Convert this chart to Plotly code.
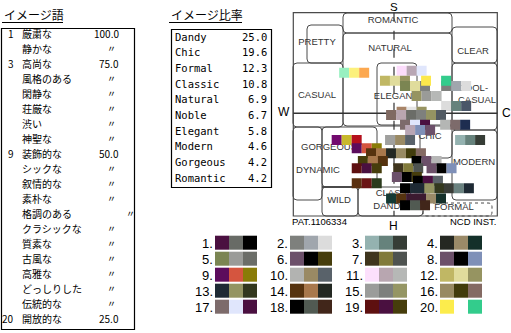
import plotly.graph_objects as go

# ---------------- data ----------------
# image words (イメージ語) with their scores; None = same as above (〃)
word_rank = [1, None, 3, None, None, None, None, None, 9, None,
             None, None, None, None, None, None, None, None, None, 20]
words = ["厳粛な", "静かな", "高尚な", "風格のある", "閑静な", "荘厳な", "渋い", "神聖な",
         "装飾的な", "シックな", "叙情的な", "素朴な", "格調のある", "クラシックな", "質素な",
         "古風な", "高雅な", "どっしりした", "伝統的な", "開放的な"]
word_score = [100.0, None, 75.0, None, None, None, None, None, 50.0, None,
              None, None, None, None, None, None, None, None, None, 25.0]

# image ratio (イメージ比率)
styles = ["Dandy", "Chic", "Formal", "Classic", "Natural", "Noble",
          "Elegant", "Modern", "Gorgeous", "Romantic"]
ratios = [25.0, 19.6, 12.3, 10.8, 6.9, 6.7, 5.8, 4.6, 4.2, 4.2]

# numbered three-colour combinations
pattern_colors = [
    ["#4a1040", "#686b66", "#000000"], ["#7e807d", "#a0a6ad", "#dcdcdc"],
    ["#94b2b0", "#66827c", "#363d36"], ["#252822", "#9a8a68", "#14302a"],
    ["#7b8552", "#9a9b98", "#6b6d68"], ["#6c506a", "#000000", "#463d0c"],
    ["#3f351d", "#817a3a", "#4e5350"], ["#6c5069", "#000000", "#7f90b8"],
    ["#5c0c5c", "#d5553f", "#8a7c08"], ["#b2b3b1", "#9a8a64", "#59626a"],
    ["#fce0fc", "#b8a6b0", "#b6b8b6"], ["#c0b764", "#e0dc9c", "#969461"],
    ["#1e2a34", "#949462", "#33381e"], ["#56330f", "#a8784c", "#232822"],
    ["#9b9c9a", "#7d807d", "#959664"], ["#988a62", "#423c0c", "#846a63"],
    ["#7d6b6b", "#e0e6fc", "#4a1040"], ["#000000", "#515a52", "#41261a"],
    ["#5e1010", "#4a1040", "#463d0c"], ["#fcec4c", "#ffffff", "#33cc8c"],
]

# combinations placed on the image scale: warm(-)/cool(+), soft(-)/hard(+)
scale_wc = [-1.21, 0.48, -0.01, 0.58, 1.79, 1.20, 0.92, 1.79, 0.48, 0.17,
            1.05, 0.58, 1.76, 0.73, -1.43, -0.84, 0.14, 2.20, -0.42, 0.46,
            -0.66, 0.92, -0.84, 0.38, 1.36, 0.34, 0.96, -0.84, 0.58, 1.00,
            1.87, 0.17, 1.05, 0.58]
scale_sh = [-1.23, -1.29, -0.99, -0.84, -0.84, -0.99, -0.54, -0.25, -0.08, 0.02,
            0.02, 0.31, 0.31, 0.46, 0.76, 1.00, 0.76, 0.76, 1.15, 1.15,
            1.38, 1.38, 1.59, 1.59, 1.59, 1.85, 1.96, 2.03, 2.18, 2.18,
            2.18, 2.48, 2.48, 2.68]
scale_colors = [
    ["#98f0c0", "#fcf07c", "#fca850"], ["#fcdcfc", "#b8a6b4", "#e0e6fc"],
    ["#c0b764", "#e0dc9c", "#969461"], ["#7b8552", "#e0dc9c", "#7e807d"],
    ["#7e807d", "#a0a6ad", "#dcdcdc"], ["#fce84c", "#ffffff", "#33cc8c"],
    ["#969461", "#9a9b98", "#b6b8b6"], ["#dcdcdc", "#66827c", "#4a5668"],
    ["#a88468", "#e4e4e4", "#989462"], ["#806a62", "#b9a6b0", "#6b6d68"],
    ["#7e807d", "#949462", "#515a62"], ["#7d6b6b", "#e0e6fc", "#4a1040"],
    ["#b4b6b4", "#7d6b6b", "#1e2d50"], ["#b8a6b4", "#7f90b8", "#6c5069"],
    ["#720a6e", "#c8b82c", "#b4101c"], ["#5c0c5c", "#d5553f", "#8a7c08"],
    ["#a0a09e", "#9a8a64", "#59626a"], ["#94b2b0", "#66827c", "#363d36"],
    ["#56330f", "#a8784c", "#232822"], ["#988a62", "#423c0c", "#846a63"],
    ["#463d0c", "#a8784c", "#56330f"], ["#000000", "#6c506a", "#b6b6b6"],
    ["#5e1010", "#4a1040", "#463d0c"], ["#3f351d", "#817a3a", "#4e5350"],
    ["#6c5069", "#000000", "#7f90b8"], ["#6c506a", "#000000", "#463d0c"],
    ["#000000", "#4a1040", "#5a6268"], ["#5a3010", "#6a1414", "#2a3a1c"],
    ["#000000", "#1e2a34", "#1e2a34"], ["#1e2a34", "#949462", "#33381e"],
    ["#3a3d38", "#6a8280", "#1e2a34"], ["#143a34", "#56330f", "#3c1a30"],
    ["#3c1a30", "#9a8a68", "#14302a"], ["#000000", "#515a52", "#41261a"],
]

# image-scale region names and label positions (page pixels)
region_names = ["ROMANTIC", "NATURAL", "PRETTY", "CLEAR", "CASUAL", "ELEGANT",
                "COOL-", "CASUAL", "GORGEOUS", "DYNAMIC", "CHIC", "MODERN",
                "WILD", "CLASSIC", "DANDY", "FORMAL"]
region_lx = [393, 390, 317, 473, 317, 396, 473, 477, 329, 318, 430, 474,
             339, 396, 390, 454]
region_ly = [21, 49, 43, 52, 96, 97, 89, 101, 148, 171, 137, 163,
             201, 194, 207, 208]

JP = "Noto Sans CJK JP"
MONO = "DejaVu Sans Mono"
SANS = "Liberation Sans"
INK = "#000000"
LINE = "#4a4a4a"

fig = go.Figure()
shapes = []
ann = []


def text(x, y, s, size, family, xanchor="left", color=INK):
    ann.append(dict(x=x, y=y, xref="x", yref="y", text=s, showarrow=False,
                    xanchor=xanchor, yanchor="middle",
                    font=dict(size=size, family=family, color=color)))


def rrect(x0, y0, x1, y1, r=4, dash="solid", width=1):
    p = (f"M{x0+r},{y0} L{x1-r},{y0} Q{x1},{y0} {x1},{y0+r} L{x1},{y1-r} "
         f"Q{x1},{y1} {x1-r},{y1} L{x0+r},{y1} Q{x0},{y1} {x0},{y1-r} "
         f"L{x0},{y0+r} Q{x0},{y0} {x0+r},{y0} Z")
    shapes.append(dict(type="path", path=p, xref="x", yref="y", layer="below",
                       line=dict(color=LINE, width=width, dash=dash)))


def seg(x0, y0, x1, y1, color=LINE, width=1, dash="solid"):
    shapes.append(dict(type="line", x0=x0, y0=y0, x1=x1, y1=y1, xref="x", yref="y",
                       layer="below", line=dict(color=color, width=width, dash=dash)))


# ---------------- left table: イメージ語 ----------------
text(2, 14, "イメージ語", 12, JP)
seg(2, 22.5, 63, 22.5, INK, 1)
shapes.append(dict(type="rect", x0=1.5, y0=28.5, x1=134.5, y1=329.5, xref="x", yref="y",
                   line=dict(color=INK, width=1.2)))
for i, (r, w, s) in enumerate(zip(word_rank, words, word_score)):
    y = 33 + 15.05 * i
    if r is not None:
        text(15.5, y, str(r), 10, JP, "right")
    text(20, y, w, 10, JP)
    if s is not None:
        text(120.5, y, f"{s:.1f}", 10, JP, "right")
    else:
        text(130 if w == "格調のある" else 111.5, y, "〃", 9, JP, "center")

# ---------------- middle table: イメージ比率 ----------------
text(169, 14, "イメージ比率", 12, JP)
seg(169, 22.5, 242, 22.5, INK, 1)
shapes.append(dict(type="rect", x0=171.5, y0=29.5, x1=271.5, y1=187.5, xref="x", yref="y",
                   line=dict(color=INK, width=1.2)))
for i, (st, v) in enumerate(zip(styles, ratios)):
    y = 36.5 + 15.7 * i
    text(173, y, st, 10.5, MONO)
    text(268.5, y, f"{v:.1f}", 10.5, MONO, "right")

# ---------------- image scale frame and regions ----------------
FX0, FY0, FX1, FY1 = 293.3, 12.7, 497.3, 216
shapes.append(dict(type="rect", x0=FX0, y0=FY0, x1=FX1, y1=FY1, xref="x", yref="y",
                   layer="below", line=dict(color=LINE, width=1.2)))
for box in [(343, 13, 452, 33), (343, 33, 452, 126), (307, 25, 343, 63),
            (452, 27, 497, 63), (293, 63, 343, 127), (377, 63, 417, 125),
            (452, 63, 497, 130), (293, 127, 322, 200), (322, 127, 377, 187),
            (420, 125, 452, 158), (452, 130, 497, 200), (322, 187, 358, 216),
            (358, 187, 423, 216)]:
    rrect(*box)
rrect(423, 203, 492, 216, dash="dot")
seg(322, 187, 358, 187, LINE, 2)
seg(FX0, 113.3, FX1, 113.3, "#333333", 1.5)
seg(394, FY0, 394, FY1, "#333333", 1.2, "dash")

fig.add_trace(go.Scatter(x=region_lx, y=region_ly, mode="text", text=region_names,
                         textfont=dict(size=9.5, family=SANS, color="#333333"),
                         xaxis="x", yaxis="y", hoverinfo="skip"))

text(394, 6.5, "S", 11.5, SANS, "center")
text(393, 226, "H", 12, SANS, "center")
text(284, 112, "W", 12, SANS, "center")
text(506, 113, "C", 12, SANS, "center")
text(290, 221, "PAT.1106334", 9.5, SANS)
text(498, 221, "NCD INST.", 9.5, SANS, "right")

# ---------------- colour combinations on the scale ----------------
CELL = 10 / 34.0  # one 10px cell in scale units
sx, sy, sc = [], [], []
for u, v, cols in zip(scale_wc, scale_sh, scale_colors):
    for j, c in enumerate(cols):
        sx.append(u + (j - 1) * CELL)
        sy.append(v)
        sc.append(c)
fig.add_trace(go.Scatter(x=sx, y=sy, mode="markers", xaxis="x2", yaxis="y2",
                         marker=dict(symbol="square", size=10, color=sc, line=dict(width=0)),
                         hoverinfo="skip"))

# ---------------- numbered combination list ----------------
lx, ly, lc = [], [], []
for k, cols in enumerate(pattern_colors):
    col, row = k % 4, k // 4
    left = 215 + 75 * col
    top = 235.7 + 16 * row
    text(left - 0.5, top + 7.5, f"{k + 1}.", 13, SANS, "right")
    for j, c in enumerate(cols):
        lx.append(left + 14 * j + 7)
        ly.append(top + 7)
        lc.append(c)
fig.add_trace(go.Scatter(x=lx, y=ly, mode="markers", xaxis="x", yaxis="y",
                         marker=dict(symbol="square", size=14, color=lc, line=dict(width=0)),
                         hoverinfo="skip"))

fig.update_layout(
    width=511, height=333, margin=dict(l=0, r=0, t=0, b=0),
    paper_bgcolor="white", plot_bgcolor="rgba(0,0,0,0)", showlegend=False,
    xaxis=dict(range=[0, 511], domain=[0, 1], visible=False, fixedrange=True),
    yaxis=dict(range=[333, 0], domain=[0, 1], visible=False, fixedrange=True),
    xaxis2=dict(range=[-3, 3], domain=[FX0 / 511, FX1 / 511], visible=False,
                anchor="y2", fixedrange=True),
    yaxis2=dict(range=[3, -3], domain=[1 - FY1 / 333, 1 - FY0 / 333], visible=False,
                anchor="x2", fixedrange=True),
    shapes=shapes, annotations=ann,
)

fig.write_html("out.html")
